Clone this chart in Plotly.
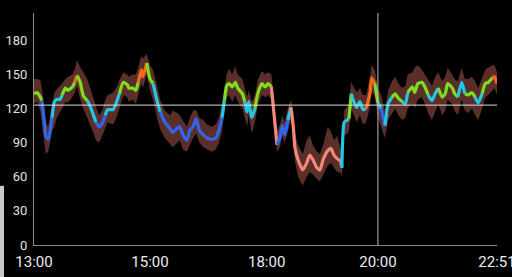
import plotly.graph_objects as go

# minutes since 13:00
minutes = [0, 4, 8, 10, 13, 15, 18, 20, 23, 26, 29, 33, 36, 40, 43, 49, 52, 55, 59, 63,
           68, 71, 75, 79, 83, 87, 91, 94, 101, 105, 109, 114, 119, 121, 126, 130, 133, 137, 139, 144,
           148, 152, 157, 161, 167, 174, 177, 183, 186, 190, 195, 199, 203, 207, 211, 216, 221, 227, 232, 236,
           240, 243, 246, 249, 253, 257, 260, 266, 269, 272, 274, 278, 282, 286, 291, 295, 299, 303, 305, 308,
           310, 314, 317, 320, 324, 328, 331, 333, 337, 343, 348, 352, 356, 361, 365, 369, 375, 379, 383, 387,
           391, 393, 396, 400, 402, 405, 407, 412, 416, 420, 424, 429, 431, 435, 439, 443, 448, 452, 457, 461,
           465, 470, 474, 477, 483, 486, 490, 495, 499, 503, 508, 512, 516, 521, 525, 528, 534, 537, 541, 546,
           550, 554, 559, 563, 567, 572, 576, 580, 585, 588, 591]

glucose = [133, 134, 130, 127, 110, 96, 93, 98, 112, 126, 128, 128, 132, 138, 136, 139, 143, 149, 143, 131,
           127, 123, 116, 108, 104, 107, 114, 119, 119, 125, 133, 143, 141, 138, 138, 136, 143, 154, 148, 160,
           146, 142, 127, 117, 108, 102, 99, 103, 104, 97, 92, 101, 104, 111, 101, 97, 94, 93, 94, 101,
           112, 127, 140, 142, 139, 143, 138, 133, 126, 117, 126, 112, 120, 134, 142, 139, 142, 139, 125, 104,
           88, 95, 105, 97, 110, 121, 104, 86, 75, 66, 72, 79, 75, 68, 66, 75, 83, 85, 79, 76,
           74, 68, 108, 110, 111, 133, 128, 121, 126, 119, 120, 134, 147, 142, 125, 120, 105, 124, 130, 133,
           129, 126, 124, 134, 139, 134, 142, 143, 139, 132, 127, 133, 138, 130, 133, 142, 138, 133, 130, 143,
           133, 132, 134, 130, 125, 133, 142, 143, 147, 148, 142]

band_upper = [146, 146, 145, 138, 122, 108, 104, 112, 124, 134, 137, 140, 142, 146, 148, 150, 154, 163, 156, 152,
              146, 140, 132, 122, 114, 118, 128, 132, 134, 138, 145, 152, 150, 148, 150, 150, 156, 166, 164, 168,
              158, 154, 140, 128, 118, 114, 118, 116, 114, 110, 104, 112, 118, 119, 112, 110, 106, 104, 106, 112,
              124, 138, 150, 155, 150, 157, 150, 146, 138, 130, 136, 126, 132, 146, 153, 150, 152, 150, 136, 116,
              100, 106, 114, 108, 120, 128, 116, 98, 88, 80, 92, 96, 88, 82, 80, 88, 104, 100, 92, 96,
              86, 80, 118, 122, 124, 144, 140, 134, 138, 132, 132, 148, 158, 154, 138, 132, 118, 136, 144, 148,
              142, 138, 140, 150, 152, 156, 158, 154, 150, 146, 140, 148, 152, 144, 148, 156, 150, 146, 144, 156,
              146, 146, 148, 144, 138, 146, 154, 156, 158, 158, 152]

band_lower = [124, 126, 118, 108, 92, 80, 82, 88, 100, 104, 112, 116, 120, 126, 125, 130, 134, 140, 128, 120,
              112, 108, 100, 92, 90, 96, 104, 108, 106, 112, 120, 132, 130, 126, 128, 124, 132, 142, 138, 150,
              136, 128, 112, 102, 94, 88, 86, 90, 92, 84, 82, 88, 94, 98, 90, 86, 84, 82, 84, 90,
              100, 116, 130, 132, 126, 132, 126, 120, 112, 104, 114, 98, 108, 124, 132, 130, 132, 128, 112, 94,
              82, 86, 96, 90, 100, 110, 92, 74, 60, 52, 60, 64, 62, 58, 56, 62, 70, 72, 68, 64,
              64, 60, 96, 98, 100, 120, 116, 108, 114, 106, 108, 122, 136, 130, 112, 104, 94, 110, 116, 120,
              114, 110, 112, 120, 124, 120, 128, 130, 124, 116, 110, 118, 124, 114, 118, 128, 124, 118, 114, 128,
              118, 116, 120, 114, 110, 120, 130, 132, 136, 138, 132]

# colour class of each segment starting at the point
seg_class = list(
    "GGGBBBBBCCCCGGGGOGGGCCCBBBCCCCGGGGGGOOOGGCCBBBBBBBBBBBBBBBBBCGGGGGGGCCCCGGGGGSSSBBBBCSSSSSSSSSSSSSSSSCCCGCCCCCOOOGCBCCGGGCCGGGGGGCCCGGGGGGCCGGGCCGGGOOG"
)

class_colors = {"G": "#7fdc1e", "C": "#22c6e6", "B": "#2f66ef", "O": "#f7681c", "S": "#f3877a"}

tick_minutes = [0, 148, 297, 439, 591]
tick_labels = ["13:00", "15:00", "18:00", "20:00", "22:51"]
y_ticks = [0, 30, 60, 90, 120, 150, 180]
target_line = 123
marker_minute = 439

fig = go.Figure()

fig.add_trace(go.Scatter(x=minutes, y=band_lower, mode="lines", line=dict(width=0),
                         hoverinfo="skip", showlegend=False))
fig.add_trace(go.Scatter(x=minutes, y=band_upper, mode="lines", line=dict(width=0),
                         fill="tonexty", fillcolor="#5a2f29", hoverinfo="skip", showlegend=False))

# group consecutive segments of same colour
n = len(minutes)
i = 0
while i < n - 1:
    c = seg_class[i] if i < len(seg_class) else seg_class[-1]
    j = i
    while j < n - 1 and (seg_class[j] if j < len(seg_class) else seg_class[-1]) == c:
        j += 1
    fig.add_trace(go.Scatter(x=minutes[i:j + 1], y=glucose[i:j + 1], mode="lines",
                             line=dict(color=class_colors[c], width=3.2, shape="spline", smoothing=0.5),
                             hoverinfo="skip", showlegend=False))
    i = j

fig.add_shape(type="line", xref="x", yref="y", x0=0, x1=591, y0=target_line, y1=target_line,
              line=dict(color="#dcdcdc", width=1))
fig.add_shape(type="line", xref="x", yref="paper", x0=marker_minute, x1=marker_minute, y0=0, y1=1,
              line=dict(color="#b8b8b8", width=1))
# side handle
fig.add_shape(type="rect", xref="paper", yref="paper", x0=-0.08, x1=-0.0648, y0=-0.2, y1=0.255,
              line=dict(width=0), fillcolor="#c8c8c8", layer="above")

fig.update_layout(
    width=512, height=277,
    margin=dict(l=34, r=15, t=13, b=32),
    paper_bgcolor="#000000", plot_bgcolor="#000000",
    font=dict(family="Roboto", color="#e6e6e6"),
    showlegend=False,
)
fig.update_xaxes(range=[0, 591], tickvals=tick_minutes, ticktext=tick_labels,
                 showgrid=False, zeroline=False, showline=True, linecolor="#8a8a8a", linewidth=1,
                 ticks="", tickfont=dict(size=15, color="#ececec"), automargin=False,
                 ticklabeloverflow="allow", ticklabelstandoff=3)
fig.update_yaxes(range=[0, 204], tickvals=y_ticks, showgrid=False, zeroline=False,
                 showline=True, linecolor="#8a8a8a", linewidth=1, ticks="",
                 tickfont=dict(size=13, color="#e0e0e0"), automargin=False, ticklabelstandoff=3)

fig.write_html("out.html")
